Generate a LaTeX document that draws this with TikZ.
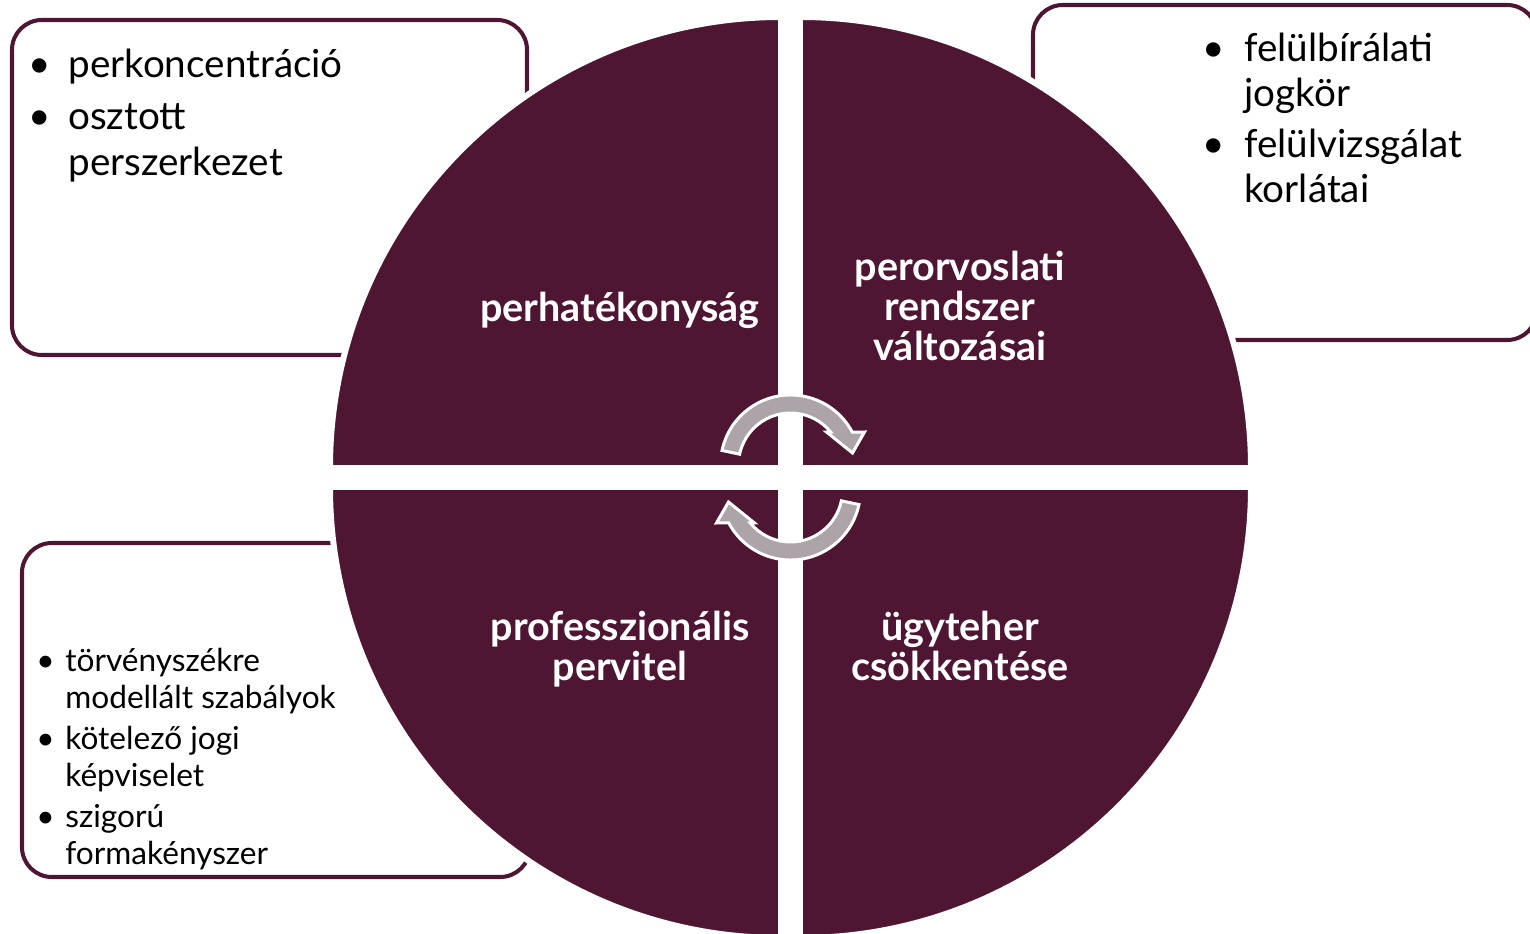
\documentclass[tikz,border=0pt]{standalone}
\usepackage{fontspec}
\setmainfont{Lato}
\usepackage{tikz}
\usetikzlibrary{positioning}
\definecolor{wine}{HTML}{4F1634}
\definecolor{arrowgray}{HTML}{ACA4A8}
\newcommand{\blt}[1]{\llap{\textbullet\hspace{#1}}}

\tikzset{
    cycarrow/.pic={
        \filldraw[fill=arrowgray, draw=white, line width=1.7pt, line join=miter]
            (168:52) -- (168:70) arc[start angle=168, end angle=28, radius=70]
            -- (74,33) -- (62,12) -- (36,33)
            -- (39.4:52) arc[start angle=39.4, end angle=168, radius=52] -- cycle;
    }
}

\begin{document}
\begin{tikzpicture}[
    x=0.02cm,
    y=0.02cm,
    line join=round
]


\tikzstyle{panel}=[
    draw=wine,
    line width=2.3pt,
    rounded corners=17pt
]
\tikzstyle{quarter}=[
    fill=wine,
    draw=white,
    line width=3.4pt
]
\tikzstyle{quadtext}=[
    text=white,
    align=center,
    anchor=base,
    font=\bfseries\fontsize{22.5}{22.7}\selectfont
]
\tikzstyle{notetext}=[
    align=left,
    anchor=base west,
    inner sep=0pt,
    font=\fontsize{22}{26}\selectfont
]
\tikzstyle{smallnote}=[
    notetext,
    font=\fontsize{18}{20.5}\selectfont
]


\useasboundingbox (-790.5,-455.5) rectangle (739.5,477.5);
\clip (-790.5,-455.5) rectangle (739.5,477.5);


% note boxes behind the circle
\draw[panel] (-778.5,457.5) rectangle (-263.5,122.5);
\draw[panel] (242.5,472.5) rectangle (746.5,137.5);
\draw[panel] (-768.5,-65.5) rectangle (-260.5,-399.5);


% the four quarters
\filldraw[quarter] (-9.5,9.5) -- ++(-451,0) arc[start angle=180, end angle=90, radius=451] -- cycle;
\filldraw[quarter] (9.5,9.5) -- ++(0,451) arc[start angle=90, end angle=0, radius=451] -- cycle;
\filldraw[quarter] (-9.5,-9.5) -- ++(0,-451) arc[start angle=270, end angle=180, radius=451] -- cycle;
\filldraw[quarter] (9.5,-9.5) -- ++(451,0) arc[start angle=0, end angle=-90, radius=451] -- cycle;


% labels sit on the baseline of their last line
\node[quadtext] (hat) at (-170.5,155.5) {perhatékonyság};
\node[quadtext] (orv) at (169.5,117) {perorvoslati\\rendszer\\változásai};
\node[quadtext] (pro) at (-170.5,-203) {professzionális\\pervitel};
\node[quadtext] (ugy) at (169.5,-203) {ügyteher\\csökkentése};


% cycle arrows
\pic (top) at (0,12.5) {cycarrow};
\pic[rotate=180] (bot) at (0,-12.5) {cycarrow};


% notes
\node[notetext] (tl1) at (-722.5,400) {\blt{10pt}perkoncentráció};
\node[notetext] (tl2) at (-722.5,302) {\blt{10pt}osztott\\perszerkezet};

\node[notetext] (tr1) at (453.5,370.5) {\blt{11pt}felülbírálati\\jogkör};
\node[notetext] (tr2) at (453.5,274.5) {\blt{11pt}felülvizsgálat\\korlátai};

\node[smallnote] (bl1) at (-725.5,-230.5) {\blt{6pt}törvényszékre\\modellált szabályok};
\node[smallnote] (bl2) at (-725.5,-308.5) {\blt{6pt}kötelező jogi\\képviselet};
\node[smallnote] (bl3) at (-725.5,-386.5) {\blt{6pt}szigorú\\formakényszer};

\end{tikzpicture}
\end{document}
